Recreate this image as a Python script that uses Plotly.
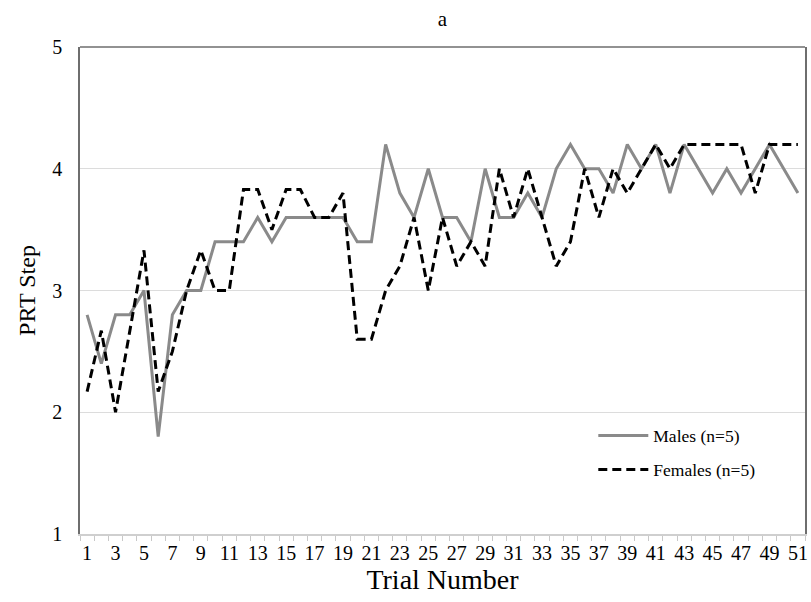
import plotly.graph_objects as go

trials = list(range(1, 52))
males = [2.8, 2.4, 2.8, 2.8, 3.0, 1.8, 2.8, 3.0, 3.0, 3.4,
         3.4, 3.4, 3.6, 3.4, 3.6, 3.6, 3.6, 3.6, 3.6, 3.4,
         3.4, 4.2, 3.8, 3.6, 4.0, 3.6, 3.6, 3.4, 4.0, 3.6,
         3.6, 3.8, 3.6, 4.0, 4.2, 4.0, 4.0, 3.8, 4.2, 4.0,
         4.2, 3.8, 4.2, 4.0, 3.8, 4.0, 3.8, 4.0, 4.2, 4.0, 3.8]
females = [2.17, 2.67, 2.0, 2.67, 3.33, 2.17, 2.5, 3.0, 3.33, 3.0,
           3.0, 3.83, 3.83, 3.5, 3.83, 3.83, 3.6, 3.6, 3.8, 2.6,
           2.6, 3.0, 3.2, 3.6, 3.0, 3.6, 3.2, 3.4, 3.2, 4.0,
           3.6, 4.0, 3.6, 3.2, 3.4, 4.0, 3.6, 4.0, 3.8, 4.0,
           4.2, 4.0, 4.2, 4.2, 4.2, 4.2, 4.2, 3.8, 4.2, 4.2, 4.2]
tick_labels = [str(t) for t in trials[::2]]
y_ticks = [1, 2, 3, 4, 5]

FONT = "Liberation Serif"
FRAME = "#6e6e6e"

fig = go.Figure()
fig.add_trace(go.Scatter(x=trials, y=males, mode="lines", name="Males (n=5)",
                         line=dict(color="#8a8a8a", width=3), legend="legend"))
fig.add_trace(go.Scatter(x=trials, y=females, mode="lines", name="Females (n=5)",
                         line=dict(color="#000000", width=3, dash="9px,5px"),
                         legend="legend2"))

fig.update_layout(
    width=811, height=602,
    margin=dict(l=80, r=6, t=47, b=68, autoexpand=False),
    paper_bgcolor="white", plot_bgcolor="white",
    font=dict(family=FONT, color="#000"),
    title=dict(text="a", x=(80 + 805) / 2 / 811, xanchor="center",
               yref="container", y=1 - 19 / 602, yanchor="middle",
               font=dict(family=FONT, size=21, color="#000"), automargin=False),
    showlegend=True,
    legend=dict(x=0.708, y=0.202, xanchor="left", yanchor="middle", itemwidth=50,
                bgcolor="rgba(0,0,0,0)", font=dict(family=FONT, size=17.5)),
    legend2=dict(x=0.708, y=0.132, xanchor="left", yanchor="middle", itemwidth=50,
                 bgcolor="rgba(0,0,0,0)", font=dict(family=FONT, size=17.5)),
    shapes=[dict(type="line", xref="paper", yref="paper", x0=0, x1=1, y0=1, y1=1,
                 line=dict(color=FRAME, width=1.5), layer="above")],
)

fig.update_xaxes(
    range=[0.5, 51.5], automargin=False,
    tickmode="array", tickvals=trials[::2], ticktext=tick_labels,
    ticks="outside", ticklen=0, tickfont=dict(family=FONT, size=20, color="#000"),
    showgrid=False, zeroline=False,
    showline=True, linecolor="#cfcfcf", linewidth=1.5, mirror=False,
    minor=dict(tickmode="linear", tick0=0.5, dtick=1, ticks="outside", ticklen=5,
               tickcolor="#c8c8c8", tickwidth=1, showgrid=False),
    title=dict(text="Trial Number", font=dict(family=FONT, size=28, color="#000"), standoff=4),
)
fig.update_yaxes(
    range=[1, 5], tickmode="array", tickvals=y_ticks, automargin=False,
    ticks="", tickfont=dict(family=FONT, size=20, color="#000"),
    showgrid=True, gridcolor="#dcdcdc", gridwidth=1, zeroline=False,
    showline=True, linecolor=FRAME, linewidth=1.5, mirror=True,
    ticklabelstandoff=12,
    title=dict(text="PRT Step", font=dict(family=FONT, size=24, color="#000"), standoff=10),
)

fig.write_html("out.html", config={"displayModeBar": False},
               post_script="document.body.style.margin='0';document.body.style.overflow='hidden';")
